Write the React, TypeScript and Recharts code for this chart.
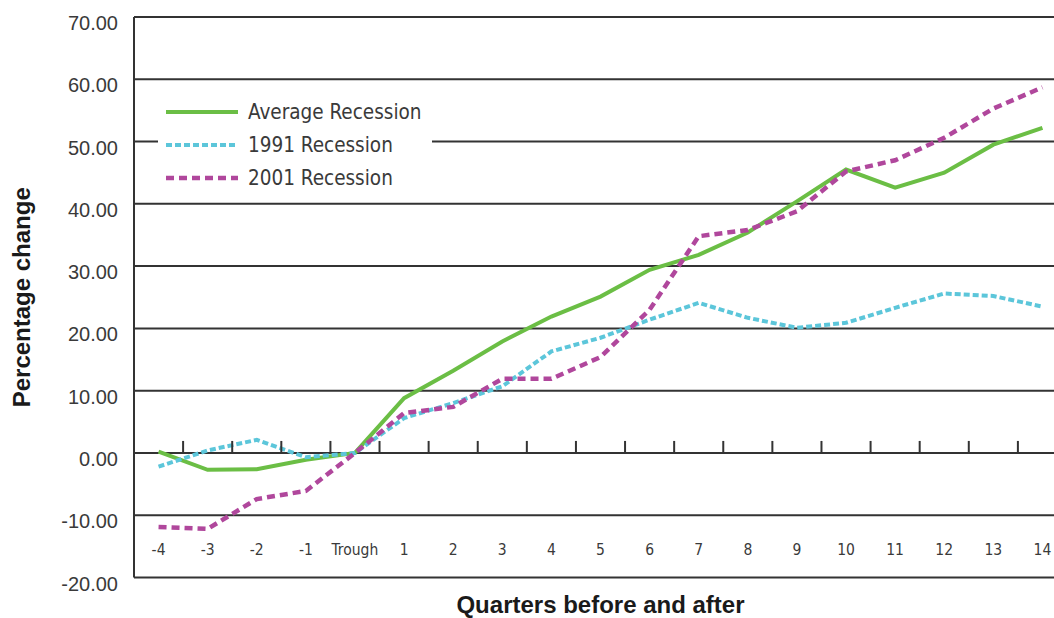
import React from 'react';
import { LineChart, Line, XAxis, YAxis, CartesianGrid, Legend } from 'recharts';

// ---------- data ----------
const quarters = ['-4', '-3', '-2', '-1', 'Trough', '1', '2', '3', '4', '5', '6', '7', '8', '9', '10', '11', '12', '13', '14'];
const averageRecession = [0.2, -2.7, -2.6, -1.1, 0, 8.8, 13.2, 17.9, 21.9, 25.1, 29.4, 31.8, 35.4, 40.4, 45.5, 42.6, 45.0, 49.5, 52.2];
const recession1991 = [-2.2, 0.4, 2.1, -0.7, 0, 5.6, 8.0, 10.7, 16.3, 18.5, 21.4, 24.1, 21.7, 20.1, 20.9, 23.3, 25.6, 25.2, 23.5];
const recession2001 = [-11.9, -12.2, -7.4, -6.1, 0, 6.4, 7.4, 11.9, 11.9, 15.4, 23.0, 34.8, 35.8, 38.8, 45.2, 47.0, 50.6, 55.3, 58.7];
const yTicks = [-20, -10, 0, 10, 20, 30, 40, 50, 60, 70];
const seriesNames = ['Average Recession', '1991 Recession', '2001 Recession'];
const xTitle = 'Quarters before and after';
const yTitle = 'Percentage change';

const data = quarters.map((q, i) => ({
  q,
  avg: averageRecession[i],
  r1991: recession1991[i],
  r2001: recession2001[i],
}));

// ---------- layout / style ----------
const CHART_W = 1080;
const CHART_H = 618;
const MARGIN = { top: 17, right: 13, bottom: 0, left: 0 };
const YAXIS_W = 134;
const XAXIS_H = 40.5;
const PLOT_W = CHART_W - MARGIN.left - MARGIN.right - YAXIS_W;
const PLOT_H = CHART_H - MARGIN.top - MARGIN.bottom - XAXIS_H;
const BAND = PLOT_W / quarters.length;
const Y_MIN = -20;
const Y_MAX = 70;

const GREEN = '#6BBE45';
const CYAN = '#5CC6DA';
const MAGENTA = '#B0479C';
const GRID = '#333333';
const LABEL = '#3a3a3a';
const NARROW = '"DejaVu Sans Condensed", "Liberation Sans Narrow", sans-serif';
const SANS = '"Liberation Sans", Arial, sans-serif';

const styles = [
  { color: GREEN, dash: undefined as string | undefined, width: 4 },
  { color: CYAN, dash: '6 3', width: 4 },
  { color: MAGENTA, dash: '8 5', width: 4.5 },
];

const YTick = (props: any) => {
  const { x, y, payload } = props;
  return (
    <text x={x} y={y} dy={13} textAnchor="end" fill={LABEL} fontSize={20} fontFamily={SANS}>
      {Number(payload.value).toFixed(2)}
    </text>
  );
};

const XTick = (props: any) => {
  const { x, y, payload, index } = props;
  const zeroY = y - (PLOT_H * (0 - Y_MIN)) / (Y_MAX - Y_MIN);
  const tx = x - BAND / 2;
  return (
    <g>
      {index > 0 && <line x1={tx} y1={zeroY} x2={tx} y2={zeroY - 12} stroke={GRID} strokeWidth={2} />}
      <text x={x} y={y - 22.5} textAnchor="middle" fill={LABEL} fontSize={15.5} fontFamily={NARROW}>
        {payload.value}
      </text>
    </g>
  );
};

const renderLegend = () => (
  <svg width={274} height={106} style={{ display: 'block', background: '#fff' }}>
    {seriesNames.map((name, i) => {
      const cy = 20 + i * 33;
      const s = styles[i];
      return (
        <g key={name}>
          <line x1={8} y1={cy} x2={80} y2={cy} stroke={s.color} strokeWidth={s.width} strokeDasharray={s.dash} />
          <text x={90} y={cy} dy="0.35em" fill={LABEL} fontSize={20.5} fontFamily={NARROW}>
            {name}
          </text>
        </g>
      );
    })}
  </svg>
);

const YLabel = () => {
  const cx = 30;
  const cy = MARGIN.top + PLOT_H / 2;
  return (
    <text x={cx} y={cy} transform={`rotate(-90 ${cx} ${cy})`} textAnchor="middle" fill="#1a1a1a" fontSize={24} fontWeight="bold" fontFamily={SANS}>
      {yTitle}
    </text>
  );
};

export default function App() {
  return (
    <div style={{ position: 'absolute', left: 0, top: 0, width: 1054, height: 618, overflow: 'hidden', background: '#fff' }}>
      <LineChart width={CHART_W} height={CHART_H} data={data} margin={MARGIN}>
        <CartesianGrid vertical={false} stroke={GRID} strokeWidth={2} />
        <XAxis
          dataKey="q"
          scale="point"
          padding={{ left: BAND / 2, right: BAND / 2 }}
          axisLine={false}
          tickLine={false}
          tickSize={0}
          tickMargin={0}
          interval={0}
          height={XAXIS_H}
          tick={<XTick />}
          label={{
            value: xTitle,
            position: 'insideBottom',
            offset: 5,
            style: { fontSize: 24, fontWeight: 'bold', fontFamily: SANS, fill: '#1a1a1a' },
          }}
        />
        <YAxis
          type="number"
          domain={[Y_MIN, Y_MAX]}
          ticks={yTicks}
          interval={0}
          width={YAXIS_W}
          axisLine={{ stroke: GRID, strokeWidth: 2 }}
          tickLine={false}
          tickSize={0}
          tickMargin={16}
          tick={<YTick />}
          label={() => <YLabel />}
        />
        <Legend
          layout="vertical"
          align="center"
          verticalAlign="middle"
          content={renderLegend}
          wrapperStyle={{ left: 158, top: 92, width: 274, height: 106 }}
        />
        <Line type="linear" dataKey="avg" name={seriesNames[0]} stroke={GREEN} strokeWidth={4} dot={false} isAnimationActive={false} />
        <Line type="linear" dataKey="r1991" name={seriesNames[1]} stroke={CYAN} strokeWidth={4} strokeDasharray="6 3" dot={false} isAnimationActive={false} />
        <Line type="linear" dataKey="r2001" name={seriesNames[2]} stroke={MAGENTA} strokeWidth={4.5} strokeDasharray="8 5" dot={false} isAnimationActive={false} />
      </LineChart>
    </div>
  );
}
